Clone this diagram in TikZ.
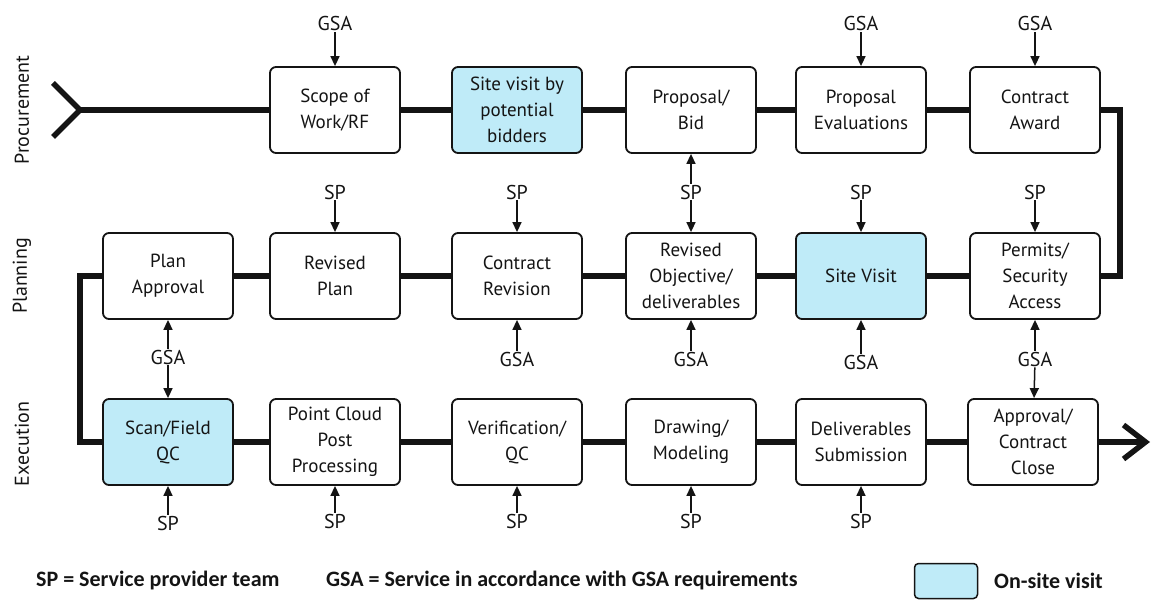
\documentclass[tikz,border=0pt]{standalone}
\usepackage{fontspec}
\setmainfont{PT Sans}
\newfontfamily\keyfont{Carlito}
\usepackage{xcolor}
\usetikzlibrary{arrows.meta}
\definecolor{flowink}{HTML}{141414}
\definecolor{onsite}{HTML}{BFEBF8}

\begin{document}
\begin{tikzpicture}[
  x=1pt,
  y=-1pt,
  every node/.style={font=\fontsize{19}{26}\selectfont, text=flowink, inner sep=1pt},
  stage/.style={draw=flowink, line width=1.8pt, rounded corners=6pt, fill=white,
    minimum width=130pt, minimum height=86pt, align=center},
  visit/.style={stage, fill=onsite},
  flow/.style={flowink, line width=5.5pt},
  feed/.style={flowink, line width=1.5pt, -{Triangle[length=10pt,width=9pt]}},
  tag/.style={font=\fontsize{20}{24}\selectfont},
  lane/.style={rotate=90, font=\fontsize{20}{24}\selectfont},
  key/.style={anchor=west, font=\keyfont\bfseries\fontsize{22}{26}\selectfont}
]
  \useasboundingbox (0,0) rectangle (1151,607);

  % ---- the three lanes -------------------------------------------------
  \node[lane] (procure) at (22,110) {Procurement};
  \node[lane] (planning) at (22,276) {Planning};
  \node[lane] (execution) at (22,444) {Execution};

  % ---- procurement -----------------------------------------------------
  \node[stage] (scope) at (335,110) {Scope of\\Work/RF};
  \node[visit] (bidvisit) at (517,110) {Site visit by\\potential\\bidders};
  \node[stage] (bid) at (691,110) {Proposal/\\Bid};
  \node[stage] (evals) at (861,110) {Proposal\\Evaluations};
  \node[stage] (award) at (1035,110) {Contract\\Award};

  % ---- planning --------------------------------------------------------
  \node[stage] (approve) at (168,276) {Plan\\Approval};
  \node[stage] (replan) at (335,276) {Revised\\Plan};
  \node[stage] (revision) at (517,276) {Contract\\Revision};
  \node[stage] (objective) at (691,276) {Revised\\Objective/\\deliverables};
  \node[visit] (sitevisit) at (861,276) {Site Visit};
  \node[stage] (permits) at (1035,276) {Permits/\\Security\\Access};

  % ---- execution -------------------------------------------------------
  \node[visit] (scan) at (168,442) {Scan/Field\\QC};
  \node[stage] (cloud) at (335,442) {Point Cloud\\Post\\Processing};
  \node[stage] (verify) at (517,442) {Verification/\\QC};
  \node[stage] (model) at (691,442) {Drawing/\\Modeling};
  \node[stage] (submit) at (861,442) {Deliverables\\Submission};
  \node[stage] (close) at (1033,442) {Approval/\\Contract\\Close};

  % ---- the main line, snaking through the lanes ------------------------
  \coordinate (start) at (80,110);
  \coordinate (turnR) at (1120,110);
  \coordinate (turnL) at (80,276);
  \coordinate (finish) at (1150,442);
  \draw[flow] (53,83) -- (start) -- (53,137);
  \draw[flow] (start) -- (scope);
  \draw[flow] (scope) -- (bidvisit);
  \draw[flow] (bidvisit) -- (bid);
  \draw[flow] (bid) -- (evals);
  \draw[flow] (evals) -- (award);
  \draw[flow] (award) -- (turnR) |- (permits);
  \draw[flow] (permits) -- (sitevisit);
  \draw[flow] (sitevisit) -- (objective);
  \draw[flow] (objective) -- (revision);
  \draw[flow] (revision) -- (replan);
  \draw[flow] (replan) -- (approve);
  \draw[flow] (approve) -- (turnL) |- (scan);
  \draw[flow] (scan) -- (cloud);
  \draw[flow] (cloud) -- (verify);
  \draw[flow] (verify) -- (model);
  \draw[flow] (model) -- (submit);
  \draw[flow] (submit) -- (close);
  \draw[flow, -{Straight Barb[length=22pt,width=34pt]}] (close) -- (finish);

  % ---- who feeds the procurement ---------------------------------------
  \node[tag] (gsaA) at (335,24) {GSA};
  \node[tag] (gsaB) at (861,24) {GSA};
  \node[tag] (gsaC) at (1035,24) {GSA};
  \draw[feed] (gsaA) -- (scope);
  \draw[feed] (gsaB) -- (evals);
  \draw[feed] (gsaC) -- (award);

  % ---- between procurement and planning --------------------------------
  \node[tag] (spA) at (691,192) {SP};
  \draw[feed] (spA) -- (bid);
  \draw[feed] (spA) -- (objective);
  \node[tag] (spB) at (335,192) {SP};
  \node[tag] (spC) at (517,192) {SP};
  \node[tag] (spD) at (861,192) {SP};
  \node[tag] (spE) at (1035,192) {SP};
  \draw[feed] (spB) -- (replan);
  \draw[feed] (spC) -- (revision);
  \draw[feed] (spD) -- (sitevisit);
  \draw[feed] (spE) -- (permits);

  % ---- between planning and execution ----------------------------------
  \node[tag] (gsaD) at (517,359) {GSA};
  \node[tag] (gsaE) at (691,359) {GSA};
  \node[tag] (gsaF) at (861,362) {GSA};
  \draw[feed] (gsaD) -- (revision);
  \draw[feed] (gsaE) -- (objective);
  \draw[feed] (gsaF) -- (sitevisit);
  \node[tag] (gsaG) at (168,357) {GSA};
  \node[tag] (gsaH) at (1035,359) {GSA};
  \draw[feed] (gsaG) -- (approve);
  \draw[feed] (gsaG) -- (scan);
  \draw[feed] (gsaH) -- (permits);
  \draw[feed] (gsaH) -- (close);

  % ---- who feeds the execution -----------------------------------------
  \node[tag] (spF) at (168,523) {SP};
  \node[tag] (spG) at (335,521) {SP};
  \node[tag] (spH) at (517,521) {SP};
  \node[tag] (spI) at (691,521) {SP};
  \node[tag] (spJ) at (861,521) {SP};
  \draw[feed] (spF) -- (scan);
  \draw[feed] (spG) -- (cloud);
  \draw[feed] (spH) -- (verify);
  \draw[feed] (spI) -- (model);
  \draw[feed] (spJ) -- (submit);

  % ---- key -------------------------------------------------------------
  \node[key] (spkey) at (35,581) {SP = Service provider team};
  \node[key] (gsakey) at (325,581) {GSA = Service in accordance with GSA requirements};
  \node[draw=flowink, line width=1.5pt, rounded corners=4pt, fill=onsite,
    minimum width=63pt, minimum height=35pt] (swatch) at (946,581) {};
  \node[key] (onsitekey) at (993,581) {On-site visit};
\end{tikzpicture}
\end{document}
